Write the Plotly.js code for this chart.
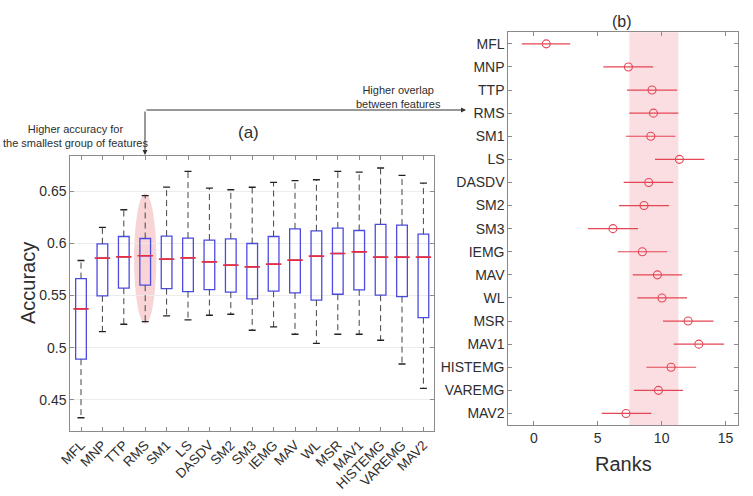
<!DOCTYPE html>
<html>
<head>
<meta charset="utf-8">
<script src="https://cdn.plot.ly/plotly-3.0.1.min.js"></script>
<style>
html, body { margin: 0; padding: 0; background: #ffffff; }
#chart { width: 753px; height: 496px; }
</style>
</head>
<body>
<div id="chart"></div>
<script>
// ---------- data ----------
const categories = ['MFL','MNP','TTP','RMS','SM1','LS','DASDV','SM2','SM3','IEMG','MAV','WL','MSR','MAV1','HISTEMG','VAREMG','MAV2'];

// (a) accuracy box statistics
const whiskerHigh = [0.5837, 0.6154, 0.6324, 0.6459, 0.6542, 0.6692, 0.6532, 0.6516, 0.6540, 0.6587, 0.6603, 0.6612, 0.6692, 0.6686, 0.6725, 0.6654, 0.6580];
const q3Values    = [0.5663, 0.5997, 0.6067, 0.6048, 0.6071, 0.6052, 0.6033, 0.6045, 0.6000, 0.6067, 0.6141, 0.6122, 0.6148, 0.6125, 0.6183, 0.6177, 0.6090];
const medianValues= [0.5372, 0.5860, 0.5872, 0.5882, 0.5850, 0.5862, 0.5824, 0.5792, 0.5776, 0.5802, 0.5840, 0.5879, 0.5904, 0.5920, 0.5869, 0.5869, 0.5869];
const q1Values    = [0.4890, 0.5497, 0.5571, 0.5600, 0.5567, 0.5538, 0.5558, 0.5533, 0.5468, 0.5542, 0.5526, 0.5456, 0.5513, 0.5555, 0.5504, 0.5490, 0.5288];
const whiskerLow  = [0.4327, 0.5154, 0.5225, 0.5250, 0.5305, 0.5266, 0.5311, 0.5321, 0.5167, 0.5200, 0.5129, 0.5042, 0.5129, 0.5129, 0.5071, 0.4843, 0.4610];

// (b) mean ranks with comparison intervals
const rankMean = [0.97, 7.40, 9.25, 9.36, 9.15, 11.39, 8.99, 8.62, 6.19, 8.49, 9.67, 10.03, 12.07, 12.91, 10.74, 9.75, 7.21];
const rankLow  = [-0.94, 5.44, 7.29, 7.47, 7.21, 9.48, 7.03, 6.66, 4.23, 6.56, 7.74, 8.10, 10.11, 10.95, 8.81, 7.84, 5.31];
const rankHigh = [2.85, 9.33, 11.21, 11.31, 11.08, 13.35, 10.90, 10.58, 8.15, 10.45, 11.60, 11.99, 14.06, 14.89, 12.70, 11.68, 9.20];

const accTicks = [0.45, 0.5, 0.55, 0.6, 0.65];
const accTickText = ['0.45', '0.5', '0.55', '0.6', '0.65'];
const rankTicks = [0, 5, 10, 15];
const highlighted = 'RMS';

// ---------- build ----------
const W = 753, H = 496;
const px = v => v / W;
const py = v => 1 - v / H;
const FONT = 'Liberation Sans, Arial, Helvetica, sans-serif';
const TXT = '#2e2e2e';

// whisker segments
const wx = [], wy = [];
categories.forEach((c, i) => {
  wx.push(c, c, null, c, c, null);
  wy.push(q3Values[i], whiskerHigh[i], null, q1Values[i], whiskerLow[i], null);
});

const hiIdx = categories.indexOf(highlighted);

const traces = [
  {
    type: 'scatter', mode: 'lines', x: wx, y: wy, xaxis: 'x', yaxis: 'y',
    line: {color: '#444444', width: 1, dash: '6px,4px'},
    hoverinfo: 'skip', showlegend: false
  },
  {
    type: 'scatter', mode: 'markers',
    x: categories.concat(categories), y: whiskerHigh.concat(whiskerLow),
    xaxis: 'x', yaxis: 'y',
    marker: {symbol: 'line-ew', size: 5, line: {color: '#222222', width: 1.3}},
    hoverinfo: 'skip', showlegend: false
  },
  {
    type: 'box', x: categories, q1: q1Values, median: medianValues, q3: q3Values,
    lowerfence: q1Values, upperfence: q3Values,
    xaxis: 'x', yaxis: 'y', width: 0.5, whiskerwidth: 0, boxpoints: false,
    line: {color: 'rgb(75,75,225)', width: 1.3},
    fillcolor: 'rgba(0,0,0,0)',
    hoverinfo: 'skip', showlegend: false
  },
  {
    type: 'scatter', mode: 'markers', x: categories, y: medianValues,
    xaxis: 'x', yaxis: 'y',
    marker: {symbol: 'line-ew', size: 11, line: {color: 'rgb(232,45,65)', width: 1.6}},
    hoverinfo: 'skip', showlegend: false
  },
  {
    type: 'scatter', mode: 'markers', x: rankMean, y: categories,
    xaxis: 'x2', yaxis: 'y2',
    marker: {symbol: 'circle-open', size: 8, color: 'rgb(228,70,85)', line: {width: 1.1}},
    error_x: {
      type: 'data', symmetric: false,
      array: rankHigh.map((h, i) => h - rankMean[i]),
      arrayminus: rankMean.map((m, i) => m - rankLow[i]),
      width: 0, thickness: 1.2, color: 'rgb(228,70,85)'
    },
    hoverinfo: 'skip', showlegend: false
  }
];

const axisCommon = {
  showline: true, linecolor: '#8a8a8a', linewidth: 1, mirror: 'ticks',
  ticks: 'inside', ticklen: 4, tickcolor: '#8a8a8a',
  zeroline: false, tickfont: {family: FONT, size: 14, color: TXT}
};

const layout = {
  width: W, height: H,
  margin: {l: 0, r: 0, t: 0, b: 0},
  paper_bgcolor: '#ffffff', plot_bgcolor: 'rgba(0,0,0,0)',
  font: {family: FONT, color: TXT},
  showlegend: false,
  xaxis: Object.assign({}, axisCommon, {
    domain: [px(70.3), px(434.1)], anchor: 'y',
    type: 'category', range: [-0.5, 16.5],
    tickangle: -45, showgrid: false,
    tickfont: {family: FONT, size: 13.5, color: TXT}
  }),
  yaxis: Object.assign({}, axisCommon, {
    domain: [py(431), py(156)], anchor: 'x',
    range: [0.42, 0.684], tickvals: accTicks, ticktext: accTickText,
    showgrid: true, gridcolor: '#ececec', gridwidth: 1
  }),
  xaxis2: Object.assign({}, axisCommon, {
    domain: [px(508.3), px(738.3)], anchor: 'y2',
    range: [-2, 16], tickvals: rankTicks, showgrid: false,
    title: {text: 'Ranks', font: {family: FONT, size: 20, color: TXT}, standoff: 12}
  }),
  yaxis2: Object.assign({}, axisCommon, {
    domain: [py(425), py(32.3)], anchor: 'x2',
    type: 'category', range: [16.5, -0.5], showgrid: false
  }),
  shapes: [
    {
      type: 'circle', xref: 'x', yref: 'y', layer: 'below',
      x0: hiIdx - 0.52, x1: hiIdx + 0.52, y0: whiskerLow[hiIdx] - 0.002, y1: whiskerHigh[hiIdx] + 0.002,
      fillcolor: 'rgba(240,160,165,0.45)', line: {width: 0}
    },
    {
      type: 'rect', xref: 'x2', yref: 'y2 domain', layer: 'below',
      x0: rankLow[hiIdx], x1: rankHigh[hiIdx], y0: 0, y1: 1,
      fillcolor: 'rgba(245,190,195,0.5)', line: {width: 0}
    }
  ],
  annotations: [
    {xref: 'paper', yref: 'paper', x: px(28), y: py(283), text: 'Accuracy', textangle: -90, showarrow: false,
     font: {family: FONT, size: 20, color: TXT}, xanchor: 'center', yanchor: 'middle'},
    {xref: 'paper', yref: 'paper', x: px(248), y: py(133), text: '(a)', showarrow: false,
     font: {family: FONT, size: 17, color: TXT}, xanchor: 'center', yanchor: 'middle'},
    {xref: 'paper', yref: 'paper', x: px(622), y: py(21), text: '(b)', showarrow: false,
     font: {family: FONT, size: 16, color: TXT}, xanchor: 'center', yanchor: 'middle'},
    {xref: 'paper', yref: 'paper', x: px(75), y: py(136), text: 'Higher accuracy for<br>the smallest group of features',
     showarrow: false, font: {family: FONT, size: 11, color: TXT}, xanchor: 'center', yanchor: 'middle'},
    {xref: 'paper', yref: 'paper', x: px(398), y: py(97), text: 'Higher overlap<br>between features',
     showarrow: false, font: {family: FONT, size: 11, color: TXT}, xanchor: 'center', yanchor: 'middle'},
    {xref: 'paper', yref: 'paper', x: px(145), y: py(155), text: '', showarrow: true,
     ax: 0, ay: -45, arrowhead: 2, arrowsize: 1, arrowwidth: 1, arrowcolor: '#333333', standoff: 0},
    {xref: 'paper', yref: 'paper', x: px(466), y: py(110), text: '', showarrow: true,
     ax: -321, ay: 0, arrowhead: 2, arrowsize: 1, arrowwidth: 1, arrowcolor: '#333333', standoff: 0}
  ]
};

Plotly.newPlot('chart', traces, layout, {displayModeBar: false, staticPlot: true});
</script>
</body>
</html>
